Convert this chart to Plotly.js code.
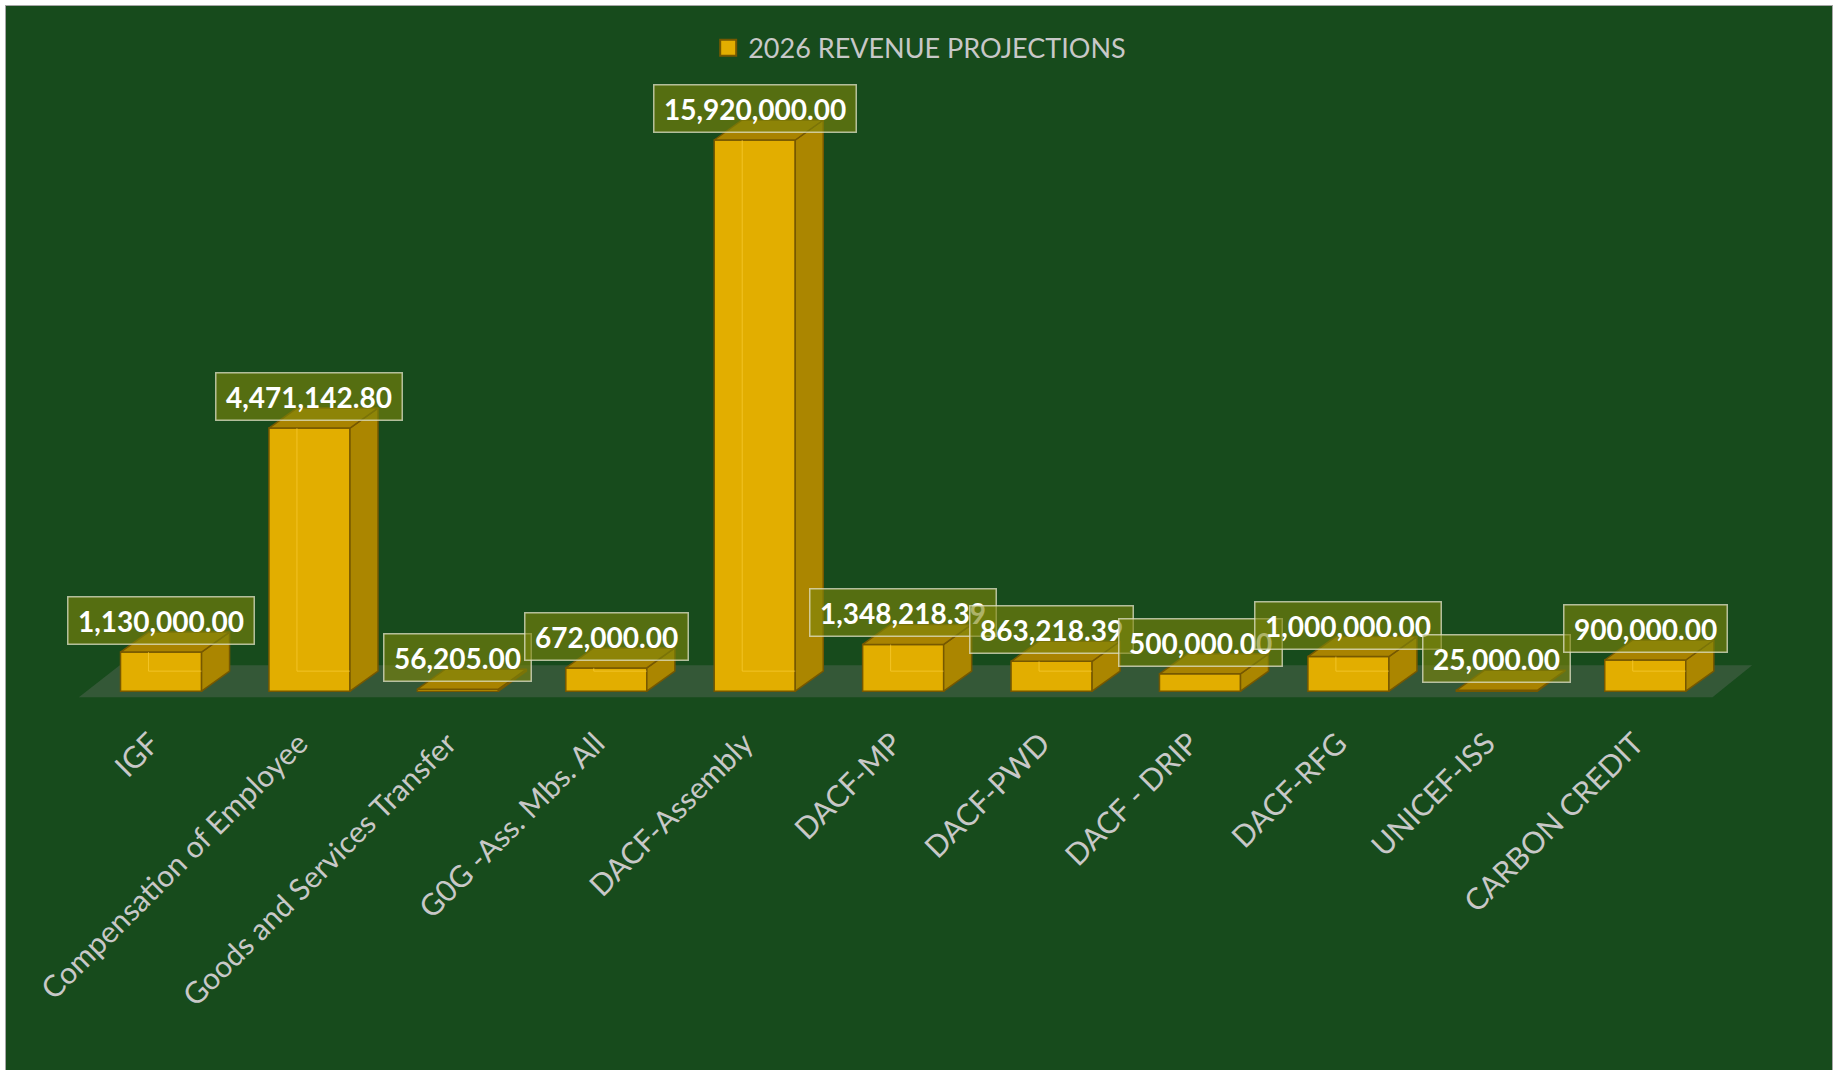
<!DOCTYPE html>
<html>
<head>
<meta charset="utf-8">
<script src="https://cdn.plot.ly/plotly-3.0.1.min.js"></script>
<style>
  html, body { margin: 0; padding: 0; background: #ffffff; }
  #chart { position: absolute; left: 5px; top: 5px; width: 1826px; height: 1064px; border: 1px solid #a6a6a6; }
</style>
</head>
<body>
<div id="chart"></div>
<script>
// ---- data ----
const categories = ["IGF", "Compensation of Employee", "Goods and Services Transfer", "G0G -Ass. Mbs. All",
  "DACF-Assembly", "DACF-MP", "DACF-PWD", "DACF - DRIP", "DACF-RFG", "UNICEF-ISS", "CARBON CREDIT"];
// bar heights as drawn in the picture
const barHeights = [1130000, 7600000, 56205, 672000, 15920000, 1348218.39, 863218.39, 500000, 1000000, 25000, 900000];
// data label texts as printed in the picture
const labelTexts = ["1,130,000.00", "4,471,142.80", "56,205.00", "672,000.00", "15,920,000.00", "1,348,218.39",
  "863,218.39", "500,000.00", "1,000,000.00", "25,000.00", "900,000.00"];
const seriesName = "2026 REVENUE PROJECTIONS";

// ---- styling / geometry ----
const W = 1826, H = 1064;
const mL = 66, mT = 62;
const plotW = 1692.3, plotH = 636.8;
const xRange = [-0.6, 10.8];
const yRange = [-400000, 18000000];
const pxPerX = plotW / (xRange[1] - xRange[0]);
const pxPerY = plotH / (yRange[1] - yRange[0]);
const barW = 0.546;
const dX = 28 / pxPerX;         // depth offset (category units)
const dY = 20 / pxPerY;         // depth offset (value units)
const labelShift = 0.07;        // tick labels sit slightly left of bar centre

const FRONT = "#e2ae00", SIDE = "#ab8600", TOP = "#a98300", EDGE = "#765800";
const BG = "#174b1c";

const idx = categories.map((_, i) => i);

// side and top faces built from the values
const sideX = [], sideY = [], topX = [], topY = [], glowX = [], glowY = [];
barHeights.forEach((v, i) => {
  const r = i + barW / 2, l = i - barW / 2;
  sideX.push(r, r + dX, r + dX, r, r, null);
  sideY.push(0, dY, v + dY, v, 0, null);
  topX.push(l, r, r + dX, l + dX, l, null);
  topY.push(v, v, v + dY, v + dY, v, null);
  if (v > dY) {
    glowX.push(l + dX, l + dX, null, l + dX, r, null);
    glowY.push(v, dY, null, dY, dY, null);
  }
});

const traces = [
  { type: "scatter", x: sideX, y: sideY, mode: "lines", fill: "toself", fillcolor: SIDE,
    line: { color: EDGE, width: 1.5 }, hoverinfo: "skip", showlegend: false },
  { type: "scatter", x: topX, y: topY, mode: "lines", fill: "toself", fillcolor: TOP,
    line: { color: EDGE, width: 1.5 }, hoverinfo: "skip", showlegend: false },
  { type: "bar", x: idx, y: barHeights, width: barW, name: seriesName,
    marker: { color: FRONT, line: { color: EDGE, width: 1.5 } }, hoverinfo: "skip", showlegend: false },
  { type: "scatter", x: glowX, y: glowY, mode: "lines",
    line: { color: "rgba(255,214,70,0.55)", width: 1 }, hoverinfo: "skip", showlegend: false },
  { type: "scatter", x: [null], y: [null], mode: "markers", name: seriesName,
    marker: { symbol: "square", size: 16, color: FRONT, line: { color: EDGE, width: 2 } }, showlegend: true }
];

const annotations = barHeights.map((v, i) => ({
  x: i, y: v, xref: "x", yref: "y", text: "\u2009" + labelTexts[i] + "\u2009", showarrow: false,
  xanchor: "center", yanchor: "bottom", yshift: 7,
  font: { family: "Lato, 'Open Sans', sans-serif", size: 28, color: "#ffffff", weight: "bold" },
  bgcolor: "rgba(125,132,12,0.62)", bordercolor: "rgba(225,225,200,0.75)", borderwidth: 1.5, borderpad: 6
}));

const shapes = [{
  type: "path", xref: "x", yref: "y", layer: "below",
  path: `M ${-0.554} ${-6 / pxPerY} L ${10.453} ${-6 / pxPerY} L ${10.72} ${26 / pxPerY} L ${-0.278} ${26 / pxPerY} Z`,
  fillcolor: "rgba(120,120,120,0.3)", line: { width: 0 }
}];

const layout = {
  width: W, height: H,
  margin: { l: mL, t: mT, r: W - mL - plotW, b: H - mT - plotH, pad: 0 },
  paper_bgcolor: BG, plot_bgcolor: BG,
  font: { family: "Lato, 'Open Sans', sans-serif", color: "#c8c8c8" },
  showlegend: true,
  legend: { orientation: "h", x: 0.501, xanchor: "center", y: 1.031, yanchor: "middle",
    bgcolor: "rgba(0,0,0,0)", font: { size: 27, color: "#c8c8c8" }, itemclick: false },
  xaxis: { range: xRange, tickmode: "array", tickvals: idx.map(i => i - labelShift), ticktext: categories,
    tickangle: -45, showgrid: false, zeroline: false, showline: false, ticks: "", ticklabelstandoff: 14,
    tickfont: { size: 30, color: "#c8c8c8" }, fixedrange: true },
  yaxis: { range: yRange, visible: false, showgrid: false, zeroline: false, fixedrange: true },
  annotations: annotations,
  shapes: shapes,
  bargap: 0
};

Plotly.newPlot("chart", traces, layout, { staticPlot: true, displayModeBar: false });
</script>
</body>
</html>
